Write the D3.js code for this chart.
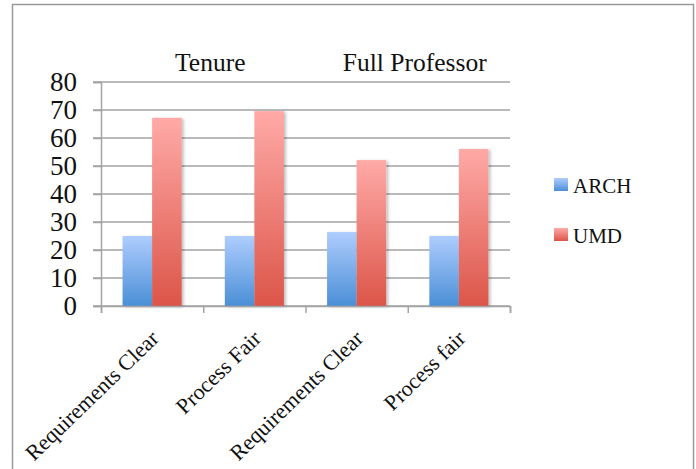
<!DOCTYPE html>
<html>
<head>
<meta charset="utf-8">
<script src="https://cdn.jsdelivr.net/npm/d3@7/dist/d3.min.js"></script>
<style>
  html, body { margin: 0; padding: 0; background: #fff; }
  svg { display: block; }
  svg text { font-family: "Liberation Serif", "Times New Roman", serif !important; fill: #111; }
</style>
</head>
<body>
<svg id="chart" width="696" height="469"></svg>
<script>
// Survey results: share of respondents agreeing, ARCH vs. UMD
const categories = ["Requirements Clear", "Process Fair", "Requirements Clear", "Process fair"];
const groups = ["Tenure", "Full Professor"];
const seriesNames = ["ARCH", "UMD"];
const archValues = [25, 25, 26.4, 25];
const umdValues = [67.2, 69.6, 52.1, 56.1];
const yTicks = [0, 10, 20, 30, 40, 50, 60, 70, 80];

const svg = d3.select("#chart");
const W = 696, H = 469;
const margin = { left: 101, right: 186, top: 82, bottom: 163 };
const plotRight = W - margin.right;
const plotBottom = H - margin.bottom;
const serif = "'Liberation Serif', 'Times New Roman', serif";

const gridColor = "#a3a3a3";

// outer frame
svg.append("rect")
  .attr("x", 12.5).attr("y", 4.5)
  .attr("width", 681).attr("height", 480)
  .attr("fill", "#fff")
  .attr("stroke", "#9a9a9a").attr("stroke-width", 1.5);

const defs = svg.append("defs");
const gradStops = {
  ARCH: ["#aecdfe", "#4b8fd6"],
  UMD: ["#ffaaa7", "#dc5549"]
};
seriesNames.forEach(s => {
  const g = defs.append("linearGradient")
    .attr("id", "grad-" + s)
    .attr("x1", 0).attr("y1", 0).attr("x2", 0).attr("y2", 1);
  g.append("stop").attr("offset", "0%").attr("stop-color", gradStops[s][0]);
  g.append("stop").attr("offset", "100%").attr("stop-color", gradStops[s][1]);
});
const shadow = defs.append("filter").attr("id", "shadow")
  .attr("x", "-20%").attr("y", "-5%").attr("width", "150%").attr("height", "115%");
shadow.append("feDropShadow")
  .attr("dx", 2).attr("dy", 1).attr("stdDeviation", 1.5)
  .attr("flood-color", "#000").attr("flood-opacity", 0.25);

const y = d3.scaleLinear().domain([0, 80]).range([plotBottom, margin.top]);
const x0 = d3.scaleBand().domain(d3.range(categories.length)).range([margin.left, plotRight]).padding(0);
const x1 = d3.scaleBand().domain(seriesNames).range([0, x0.bandwidth()]).paddingInner(0).paddingOuter(0.73);

// horizontal gridlines
svg.append("g")
  .selectAll("line")
  .data(yTicks)
  .join("line")
  .attr("x1", margin.left - 8).attr("x2", plotRight)
  .attr("y1", d => y(d)).attr("y2", d => y(d))
  .attr("stroke", gridColor).attr("stroke-width", 1.5);

// y axis
const yAxis = svg.append("g")
  .attr("transform", `translate(${margin.left},0)`)
  .call(d3.axisLeft(y).tickValues(yTicks).tickSize(8).tickPadding(16));
yAxis.attr("font-family", null);
yAxis.select(".domain").attr("stroke", gridColor).attr("stroke-width", 1.5);
yAxis.selectAll(".tick line").attr("stroke", gridColor).attr("stroke-width", 1.5);
yAxis.selectAll(".tick text")
  .attr("font-size", 27)
  .style("font-family", serif)
  .attr("fill", "#111");

// bars
const rows = categories.map((c, i) => ({ i, values: { ARCH: archValues[i], UMD: umdValues[i] } }));
const groupSel = svg.append("g").selectAll("g")
  .data(rows)
  .join("g")
  .attr("transform", d => `translate(${x0(d.i)},0)`);
groupSel.selectAll("rect")
  .data(d => seriesNames.map(s => ({ s, v: d.values[s] })))
  .join("rect")
  .attr("x", d => x1(d.s))
  .attr("width", x1.bandwidth())
  .attr("y", d => y(d.v))
  .attr("height", d => y(0) - y(d.v))
  .attr("fill", d => `url(#grad-${d.s})`)
  .attr("filter", "url(#shadow)");

// x axis
const xAxis = svg.append("g")
  .attr("transform", `translate(0,${plotBottom})`)
  .call(d3.axisBottom(d3.scaleLinear().domain([0, categories.length]).range([margin.left, plotRight]))
    .tickValues(d3.range(categories.length + 1)).tickSize(7).tickFormat(""));
xAxis.select(".domain").attr("stroke", gridColor).attr("stroke-width", 1.5);
xAxis.selectAll(".tick line").attr("stroke", gridColor).attr("stroke-width", 1.5);

// rotated category labels
svg.append("g")
  .selectAll("text")
  .data(categories)
  .join("text")
  .attr("transform", (d, i) => `translate(${x0(i) + x0.bandwidth() / 2 + 8},${plotBottom + 34}) rotate(-44)`)
  .attr("text-anchor", "end")
  .attr("font-size", 22)
  .style("font-family", serif)
  .text(d => d);

// group titles above the plot
svg.append("g")
  .selectAll("text")
  .data(groups)
  .join("text")
  .attr("x", (d, gi) => (x0(gi * 2) + x0(gi * 2 + 1) + x0.bandwidth()) / 2 + 7)
  .attr("y", 71)
  .attr("text-anchor", "middle")
  .attr("font-size", 25.5)
  .style("font-family", serif)
  .text(d => d);

// legend
const legend = svg.append("g")
  .selectAll("g")
  .data(seriesNames)
  .join("g")
  .attr("transform", (d, i) => `translate(554,${178 + i * 50})`);
legend.append("rect")
  .attr("width", 14).attr("height", 13)
  .attr("fill", d => `url(#grad-${d})`);
legend.append("text")
  .attr("x", 19).attr("y", 15)
  .attr("font-size", 21)
  .style("font-family", serif)
  .text(d => d);
</script>
</body>
</html>
